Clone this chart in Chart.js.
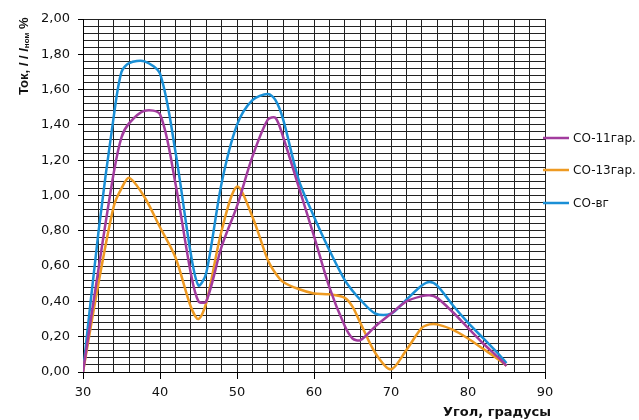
<!DOCTYPE html>
<html>
<head>
<meta charset="utf-8">
<script src="https://cdn.jsdelivr.net/npm/chart.js@4.4.1/dist/chart.umd.min.js"></script>
<style>
  body { margin: 0; background: #fff; }
  #wrap { width: 639px; height: 420px; }
</style>
</head>
<body>
<div id="wrap"><canvas id="myChart" width="639" height="420"></canvas></div>
<script>
'use strict';

// angle, degrees
let angles = [30, 32, 34, 35, 36, 38, 40, 42, 44, 45, 46, 48, 50, 52, 54, 55, 56,
  58, 60, 62, 64, 65, 66, 68, 70, 72, 74, 75, 76, 78, 80, 82, 84, 85];

// current, I / Iном
let co11gar = [0, 0.58, 1.13, 1.33, 1.41, 1.48, 1.46, 1.07, 0.56, 0.40, 0.40, 0.71, 0.94,
  1.22, 1.43, 1.44, 1.33, 1.05, 0.77, 0.48, 0.26, 0.19, 0.18, 0.26, 0.33, 0.40, 0.43,
  0.435, 0.42, 0.34, 0.25, 0.16, 0.08, 0.035];
let co13gar = [0, 0.50, 0.94, 1.04, 1.10, 0.99, 0.82, 0.65, 0.37, 0.30, 0.39, 0.80, 1.05,
  0.88, 0.635, 0.56, 0.51, 0.47, 0.445, 0.44, 0.42, 0.37, 0.28, 0.105, 0.015, 0.125, 0.25,
  0.27, 0.27, 0.24, 0.19, 0.13, 0.07, 0.035];
let coVg = [0, 0.79, 1.45, 1.70, 1.75, 1.76, 1.69, 1.25, 0.67, 0.49, 0.56, 1.07, 1.40,
  1.54, 1.575, 1.54, 1.43, 1.09, 0.88, 0.69, 0.52, 0.46, 0.41, 0.33, 0.33, 0.41, 0.49,
  0.51, 0.49, 0.38, 0.28, 0.19, 0.10, 0.05];

let seriesNames = ['CO-11гар.', 'CO-13гар.', 'CO-вг'];
let seriesColors = ['#A23C9E', '#EE9A22', '#1A8FD6'];

let xTitle = 'Угол, градусы';

function toPoints(values) {
  let pts = [];
  for (let i = 0; i < angles.length; i++) {
    pts.push({ x: angles[i], y: values[i] });
  }
  return pts;
}

let tickFont = { family: 'DejaVu Sans', size: 13 };
let ink = '#111';

// legend + axis titles drawn by hand (subscript in y title)
let decorations = {
  id: 'decorations',
  afterDraw(chart) {
    let ctx = chart.ctx;
    ctx.save();
    ctx.fillStyle = ink;

    // legend
    let legendY = [138, 170, 203];
    ctx.font = '12px "DejaVu Sans"';
    ctx.textBaseline = 'middle';
    ctx.textAlign = 'left';
    chart.data.datasets.forEach(function (ds, i) {
      ctx.strokeStyle = ds.borderColor;
      ctx.lineWidth = 2.5;
      ctx.beginPath();
      ctx.moveTo(543, legendY[i]);
      ctx.lineTo(569, legendY[i]);
      ctx.stroke();
      ctx.fillText(ds.label, 573, legendY[i] + 1);
    });

    // x title
    ctx.font = 'bold 13px "DejaVu Sans"';
    ctx.textAlign = 'right';
    ctx.textBaseline = 'alphabetic';
    ctx.fillText(xTitle, 551, 416);

    // y title: Ток, I / Iном %
    ctx.translate(28, 95);
    ctx.rotate(-Math.PI / 2);
    ctx.textAlign = 'left';
    let x = 0;
    let parts = [
      ['Ток, ', 'bold 13px "Liberation Sans"', 0],
      ['I', 'bold italic 13px "Liberation Sans"', 0],
      [' / ', 'bold 13px "Liberation Sans"', 0],
      ['I', 'bold italic 13px "Liberation Sans"', 0],
      ['ном', 'bold 8px "Liberation Sans"', 1],
      [' %', 'bold 13px "Liberation Sans"', 0]
    ];
    parts.forEach(function (p) {
      ctx.font = p[1];
      ctx.fillText(p[0], x, p[2]);
      x += ctx.measureText(p[0]).width;
    });
    ctx.restore();
  }
};

let config = {
  type: 'line',
  data: {
    datasets: [
      { label: seriesNames[0], data: toPoints(co11gar), borderColor: seriesColors[0] },
      { label: seriesNames[1], data: toPoints(co13gar), borderColor: seriesColors[1] },
      { label: seriesNames[2], data: toPoints(coVg), borderColor: seriesColors[2] }
    ]
  },
  options: {
    responsive: false,
    animation: false,
    layout: { padding: { top: 19, right: 94, bottom: 0, left: 0 } },
    elements: {
      line: { borderWidth: 2.5, tension: 0.3, fill: false },
      point: { radius: 0, hoverRadius: 0 }
    },
    plugins: {
      legend: { display: false },
      tooltip: { enabled: false }
    },
    scales: {
      x: {
        type: 'linear',
        min: 30,
        max: 90,
        afterFit: function (scale) { scale.height = 48; },
        border: { color: '#000', width: 1 },
        grid: {
          color: '#222',
          lineWidth: 1,
          tickLength: 7,
          tickColor: function (c) {
            return c.tick && c.tick.value % 10 === 0 ? '#000' : 'rgba(0,0,0,0)';
          }
        },
        ticks: {
          stepSize: 2,
          autoSkip: false,
          maxTicksLimit: 100,
          maxRotation: 0,
          padding: 6,
          color: ink,
          font: tickFont,
          callback: function (v) { return v % 10 === 0 ? String(v) : ''; }
        }
      },
      y: {
        min: 0,
        max: 2,
        afterFit: function (scale) { scale.width = 83; },
        border: { color: '#000', width: 1 },
        grid: {
          color: '#222',
          lineWidth: 1,
          tickLength: 5,
          tickColor: function (c) {
            return c.tick && Math.round(c.tick.value * 100) % 20 === 0 ? '#000' : 'rgba(0,0,0,0)';
          }
        },
        ticks: {
          stepSize: 0.04,
          autoSkip: false,
          maxTicksLimit: 100,
          padding: 8,
          color: ink,
          font: tickFont,
          callback: function (v) {
            return Math.round(v * 100) % 20 === 0 ? v.toFixed(2).replace('.', ',') : '';
          }
        }
      }
    }
  },
  plugins: [decorations]
};

new Chart(document.getElementById('myChart'), config);
</script>
</body>
</html>
